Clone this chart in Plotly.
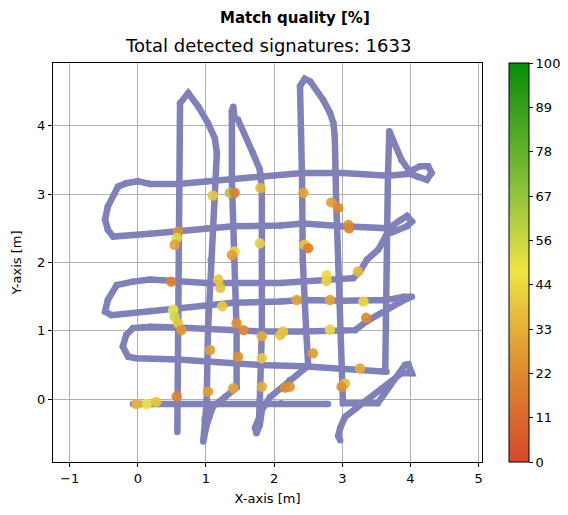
import plotly.graph_objects as go

# ---- Trajectory (waypoints, metres) ----
path_a_x = [0.58, 0.59, 0.59, 0.62, 0.74, 0.89, 1.03, 1.13, 1.16, 1.12, 1.07, 1.03, 1.01, 0.98, 0.96, 1.01,
            1.10, 1.28, 1.45, 1.45, 1.41, 1.38, 1.38, 1.40, 1.42, 1.47, 1.69, 1.79, 1.82, 1.82, 1.82, 1.79,
            1.78, 1.72, 1.74, 1.79, 1.82, 1.94, 2.23, 2.50, 2.47, 2.42, 2.41, 2.38, 2.45, 2.53, 2.72, 2.82,
            2.87, 2.89, 2.91, 2.97, 3.01, 3.01, 3.52, 3.92, 3.97, 4.02, 3.87, 3.04, 2.97, 2.94, 2.97]
path_a_y = [-0.48, 1.31, 3.15, 4.33, 4.48, 4.28, 4.04, 3.82, 3.60, 2.91, 2.04, 1.01, -0.05, -0.30, -0.62, -0.38,
            -0.11, 0.03, 0.17, 1.01, 2.04, 3.21, 4.21, 4.28, 4.12, 4.09, 3.60, 3.36, 3.07, 2.04, 1.01, -0.01,
            -0.27, -0.42, -0.50, -0.38, -0.16, 0.03, 0.28, 0.49, 1.01, 2.04, 3.21, 4.58, 4.69, 4.65, 4.38, 4.19,
            4.04, 3.84, 2.92, 1.45, -0.01, -0.06, -0.06, 0.50, 0.51, 0.38, 0.38, -0.26, -0.42, -0.54, -0.60]

path_b_x = [3.63, 3.64, 3.66, 3.67, 3.69, 3.87, 3.99, 4.14, 4.26, 4.31, 4.24, 4.11, 3.99, 3.67, 3.01, 2.42,
            1.84, 1.01, 0.59, 0.18, 0.00, -0.17, -0.29, -0.44, -0.48, -0.44, -0.36, 0.18, 0.59, 1.01, 1.40,
            2.09, 2.43, 3.01, 3.68, 3.85, 3.95, 4.02, 3.95, 3.65, 3.53, 3.36, 3.26, 3.16, 2.77, 2.43, 2.09,
            1.01, 0.59, 0.18, -0.07, -0.31, -0.44, -0.48, -0.39, 0.18, 0.59, 1.01, 1.40, 2.09, 2.43, 3.01,
            3.65, 3.90, 4.02, 3.85, 3.65, 3.36, 3.19, 3.01, 2.43, 1.79, 1.01, 0.59, 0.18, -0.07, -0.17,
            -0.22, -0.14, -0.02, 0.59, 1.01, 1.40, 1.79, 2.43, 3.01, 3.65]
path_b_y = [0.40, 1.45, 2.48, 3.27, 3.92, 3.50, 3.33, 3.41, 3.41, 3.31, 3.21, 3.25, 3.30, 3.27, 3.31, 3.31,
            3.26, 3.19, 3.15, 3.15, 3.19, 3.16, 3.11, 2.82, 2.63, 2.48, 2.38, 2.42, 2.45, 2.50, 2.53,
            2.54, 2.57, 2.53, 2.50, 2.62, 2.68, 2.60, 2.53, 2.41, 2.19, 2.04, 1.87, 1.77, 1.75, 1.72, 1.70,
            1.70, 1.72, 1.75, 1.72, 1.67, 1.45, 1.28, 1.23, 1.29, 1.32, 1.36, 1.41, 1.43, 1.45, 1.44,
            1.45, 1.50, 1.50, 1.42, 1.31, 1.14, 1.01, 1.00, 0.99, 0.99, 1.04, 1.05, 1.06, 1.04, 0.94,
            0.77, 0.62, 0.60, 0.58, 0.55, 0.53, 0.50, 0.48, 0.45, 0.40]

path_c_x = [-0.07, 0.30, 1.20, 2.10, 2.79]
path_c_y = [-0.07, -0.07, -0.06, -0.06, -0.07]

# ---- Detected signatures (x, y, match quality %) ----
sig_x = [1.10, 1.35, 1.42, 1.80, 2.43, 2.84, 2.94, 3.09, 3.10, 0.59, 0.57, 0.54, 1.79, 1.42, 1.38, 2.45, 2.50,
         0.49, 1.18, 1.21, 2.77, 2.77, 3.23, 1.24, 2.33, 2.82, 3.31, 3.35, 0.52, 0.54, 0.59, 0.64, 1.45, 1.55,
         1.82, 2.13, 2.09, 2.82, 1.06, 1.47, 1.82, 2.57, 3.26, 0.57, 1.03, 1.40, 1.82, 2.23, 2.16, 3.04, 2.99,
         -0.02, 0.13, 0.27]
sig_y = [2.98, 3.02, 3.02, 3.09, 3.02, 2.88, 2.80, 2.55, 2.50, 2.45, 2.36, 2.26, 2.28, 2.16, 2.11, 2.26, 2.21,
         1.72, 1.75, 1.63, 1.81, 1.73, 1.87, 1.36, 1.45, 1.45, 1.43, 1.19, 1.31, 1.21, 1.11, 1.01, 1.11, 1.01,
         0.92, 0.99, 0.94, 1.02, 0.72, 0.62, 0.60, 0.67, 0.45, 0.04, 0.11, 0.16, 0.18, 0.18, 0.17, 0.23, 0.18,
         -0.07, -0.07, -0.04]
sig_q = [40, 62, 18, 35, 30, 28, 22, 25, 20, 25, 52, 30, 42, 45, 28, 40, 18,
         20, 40, 38, 45, 42, 36, 40, 30, 30, 44, 22, 48, 55, 40, 26, 25, 23,
         32, 40, 38, 45, 28, 25, 40, 28, 32, 20, 28, 30, 33, 25, 22, 38, 25,
         35, 48, 40]

cbar_ticks = [0, 100/9, 200/9, 300/9, 400/9, 500/9, 600/9, 700/9, 800/9, 100]
cbar_labels = ["0", "11", "22", "33", "44", "56", "67", "78", "89", "100"]

PATH_COLOR = "rgb(128,128,186)"
FONT = "DejaVu Sans"

fig = go.Figure()
for px_, py_ in [(path_a_x, path_a_y), (path_b_x, path_b_y), (path_c_x, path_c_y)]:
    fig.add_trace(go.Scatter(x=px_, y=py_, mode="lines+markers",
                             line=dict(color=PATH_COLOR, width=6.5),
                             marker=dict(color=PATH_COLOR, size=6.5),
                             showlegend=False, hoverinfo="skip"))

fig.add_trace(go.Scatter(
    x=sig_x, y=sig_y, mode="markers", showlegend=False,
    marker=dict(size=10.5, color=sig_q, cmin=0, cmax=100, opacity=0.92,
                colorscale=[[0, "#d9472b"], [0.25, "#e0922f"], [0.48, "#eee444"], [0.7, "#82bf38"], [1, "#088c08"]],
                line=dict(width=0),
                showscale=True,
                colorbar=dict(x=1.063, xanchor="left", xpad=0, ypad=0, y=0.5, yanchor="middle",
                              len=1, lenmode="fraction", thickness=20,
                              outlinecolor="black", outlinewidth=1,
                              tickmode="array", tickvals=cbar_ticks, ticktext=cbar_labels,
                              ticks="outside", ticklen=4, tickcolor="black",
                              tickfont=dict(family=FONT, size=13, color="black"))),
))

axis_common = dict(showgrid=True, gridcolor="#b0b0b0", gridwidth=1, zeroline=False,
                   showline=True, linecolor="black", linewidth=1, mirror=True,
                   ticks="outside", ticklen=4, tickcolor="black",
                   tickfont=dict(family=FONT, size=13, color="black"))

fig.update_layout(
    width=568, height=515,
    margin=dict(l=53, r=86, t=63, b=53, autoexpand=False),
    paper_bgcolor="white", plot_bgcolor="white",
    font=dict(family=FONT, color="black"),
    xaxis=dict(range=[-1.244, 5.05], tickvals=[-1, 0, 1, 2, 3, 4, 5],
               title=dict(text="X-axis [m]", font=dict(family=FONT, size=13), standoff=9), **axis_common),
    yaxis=dict(range=[-0.92, 4.92], tickvals=[0, 1, 2, 3, 4],
               title=dict(text="Y-axis [m]", font=dict(family=FONT, size=13), standoff=12), **axis_common),
    annotations=[
        dict(text="<b>Match quality [%]</b>", xref="paper", yref="paper", x=0.564, y=1.113,
             xanchor="center", yanchor="middle", showarrow=False, font=dict(family=FONT, size=15)),
        dict(text="Total detected signatures: 1633", xref="paper", yref="paper", x=0.5, y=1.043,
             xanchor="center", yanchor="middle", showarrow=False, font=dict(family=FONT, size=18)),
    ],
)

fig.write_html("out.html", config={"displayModeBar": False},
               post_script="document.body.style.margin='0';")
